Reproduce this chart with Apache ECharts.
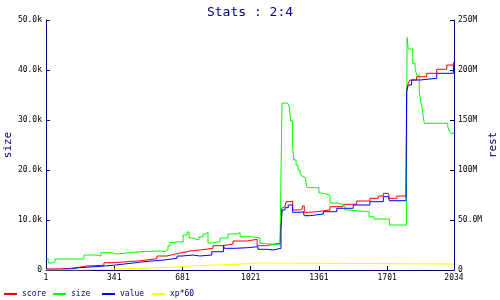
<!DOCTYPE html>
<html>
<head>
<meta charset="utf-8">
<script src="https://cdn.jsdelivr.net/npm/echarts@6/dist/echarts.min.js"></script>
<style>
  html, body { margin: 0; padding: 0; background: #fff; }
  #chart { width: 500px; height: 300px; }
</style>
</head>
<body>
<div id="chart"></div>
<script>
const NAVY = '#000080'
const FONT = 'DejaVu Sans Mono'

const xTicks = [1, 341, 681, 1021, 1361, 1701, 2034]
const legendNames = ['score', 'size', 'value', 'xp*60']

// [index, value] pairs, each value holds until the next point
const scorePts = [
  [1, 1e6], [71, 1.7e6], [124, 2.7e6], [165, 4e6], [205, 4.7e6], [290, 7.3e6],
  [340, 8.3e6], [405, 9.3e6], [473, 11.3e6], [554, 14e6], [604, 15.7e6], [639, 17.3e6],
  [679, 19e6], [719, 20e6], [768, 21.7e6], [833, 24.3e6], [883, 26e6], [933, 29e6],
  [1001, 30.7e6], [1053, 24.3e6], [1101, 25.7e6], [1132, 26.7e6], [1167, 27e6],
  [1175, 61.7e6], [1182, 63.3e6], [1192, 65e6], [1197, 68.3e6], [1217, 69e6],
  [1230, 60e6], [1267, 61e6], [1278, 64e6], [1288, 57.7e6], [1308, 58.3e6], [1350, 60e6],
  [1416, 63.3e6], [1481, 65.7e6], [1549, 69e6], [1615, 71.7e6], [1657, 74e6], [1682, 76.7e6],
  [1707, 78.3e6], [1712, 71.7e6], [1749, 74e6], [1795, 75e6], [1798, 180e6], [1806, 186.7e6],
  [1815, 190e6], [1848, 193.3e6], [1898, 196.7e6], [1948, 200.7e6], [1998, 205e6],
  [2031, 207.7e6], [2034, 208e6]
]

const sizePts = [
  [1, 2300], [12, 1400], [28, 1600], [46, 2200], [116, 2200], [190, 3000], [250, 2800],
  [275, 3460], [330, 3200], [355, 3500], [425, 3700], [489, 3800], [574, 3660], [589, 4000],
  [609, 4800], [619, 5500], [639, 5660], [664, 5600], [684, 7000], [704, 7600], [714, 6400],
  [734, 6000], [763, 6600], [783, 7200], [798, 7600], [808, 5400], [833, 5660], [868, 6400],
  [908, 7200], [948, 7460], [968, 6660], [1018, 6400], [1067, 5340], [1082, 5000],
  [1167, 5400], [1172, 19400], [1177, 33400], [1202, 33000], [1212, 33400], [1220, 29800],
  [1230, 24400], [1237, 22000], [1247, 21000], [1257, 20000], [1267, 19400], [1275, 18800],
  [1282, 18400], [1295, 17800], [1302, 16460], [1361, 15400], [1375, 15000], [1416, 13400],
  [1451, 13000], [1491, 12000], [1501, 11660], [1611, 10660], [1635, 10200], [1712, 9000],
  [1797, 14200], [1800, 46540], [1806, 44200], [1828, 41340], [1840, 40340], [1848, 39000],
  [1861, 35660], [1868, 33660], [1876, 32340], [1881, 30660], [1886, 29340], [2003, 28660],
  [2009, 28000], [2018, 27340], [2034, 27340]
]

const valuePts = [
  [1, 0.7e6], [74, 1e6], [124, 2.3e6], [165, 4e6], [295, 5e6], [348, 6.7e6], [423, 8.3e6],
  [489, 10e6], [589, 11.7e6], [654, 14e6], [679, 15e6], [734, 14e6], [768, 15e6],
  [827, 18.3e6], [885, 24.3e6], [890, 21.7e6], [943, 22.3e6], [1008, 23.3e6], [1057, 20.7e6],
  [1101, 20e6], [1132, 21.7e6], [1172, 42e6], [1178, 60e6], [1192, 62.3e6], [1208, 65e6],
  [1230, 57.7e6], [1267, 58.3e6], [1283, 60e6], [1288, 54.3e6], [1316, 56e6], [1383, 58.3e6],
  [1450, 61.7e6], [1532, 65e6], [1615, 68.3e6], [1682, 73.3e6], [1707, 75e6], [1712, 69.3e6],
  [1795, 71.7e6], [1798, 178.3e6], [1806, 185e6], [1823, 190e6], [1865, 191.7e6],
  [1948, 196.7e6], [2031, 205e6], [2034, 205e6]
]

const xpPts = [
  [1, 0], [174, 1e6], [340, 2.3e6], [589, 3.3e6], [669, 4.5e6], [768, 5.7e6], [948, 7e6],
  [1053, 6e6], [2034, 6e6]
]

const legendLeft = [4, 53, 102, 152]

const fmtK = (v) => v === 0 ? '0' : (v / 1000).toFixed(1) + 'k'
const fmtM = (v) => {
  if (v === 0) return '0'
  const m = v / 1e6
  return m >= 100 ? m.toFixed(0) + 'M' : m.toFixed(1) + 'M'
}

const lineSeries = (name, data, color, yAxisIndex) => ({
  name,
  type: 'line',
  step: 'end',
  yAxisIndex,
  data,
  showSymbol: false,
  lineStyle: { color, width: 1 },
  itemStyle: { color },
  emphasis: { disabled: true }
})

const valueAxis = (name, max, interval, fmt, position, nameGap) => ({
  type: 'value',
  position,
  min: 0,
  max,
  interval,
  name,
  nameLocation: 'middle',
  nameGap,
  nameMoveOverlap: false,
  nameTextStyle: { color: NAVY, fontFamily: FONT, fontSize: 11 },
  axisLine: { show: true, lineStyle: { color: NAVY, width: 1 } },
  axisTick: { show: true, inside: true, length: 4, lineStyle: { color: NAVY } },
  axisLabel: { color: '#000', fontFamily: FONT, fontSize: 8, margin: 4, formatter: fmt },
  splitLine: { show: false }
})

const chart = echarts.init(document.getElementById('chart'))

chart.setOption({
  animation: false,
  backgroundColor: '#fff',
  title: {
    text: 'Stats : 2:4',
    left: 'center',
    top: 1,
    textStyle: { color: NAVY, fontFamily: FONT, fontSize: 13, fontWeight: 'normal' }
  },
  legend: legendNames.map((n, i) => ({
    data: [n],
    left: legendLeft[i],
    top: 290,
    icon: 'rect',
    itemWidth: 13,
    itemHeight: 2,
    itemGap: 0,
    itemTextGap: 3,
    padding: 0,
    itemStyle: { borderWidth: 0 },
    textStyle: { color: NAVY, fontFamily: FONT, fontSize: 8 }
  })),
  grid: { left: 46, right: 46, top: 20, bottom: 30, containLabel: false, outerBoundsMode: 'none' },
  xAxis: {
    type: 'value',
    min: 1,
    max: 2034,
    axisLine: { lineStyle: { color: NAVY, width: 1 } },
    axisTick: { inside: true, length: 4, lineStyle: { color: NAVY }, customValues: xTicks },
    axisLabel: {
      color: '#000', fontFamily: FONT, fontSize: 8, margin: 4,
      customValues: xTicks, formatter: (v) => String(v)
    },
    splitLine: { show: false }
  },
  yAxis: [
    valueAxis('size', 50000, 10000, fmtK, 'left', 32),
    valueAxis('rest', 250e6, 50e6, fmtM, 'right', 34)
  ],
  series: [
    lineSeries('score', scorePts, '#ff0000', 1),
    lineSeries('size', sizePts, '#00ff00', 0),
    lineSeries('value', valuePts, '#0000ff', 1),
    lineSeries('xp*60', xpPts, '#ffff00', 1)
  ]
})
</script>
</body>
</html>
